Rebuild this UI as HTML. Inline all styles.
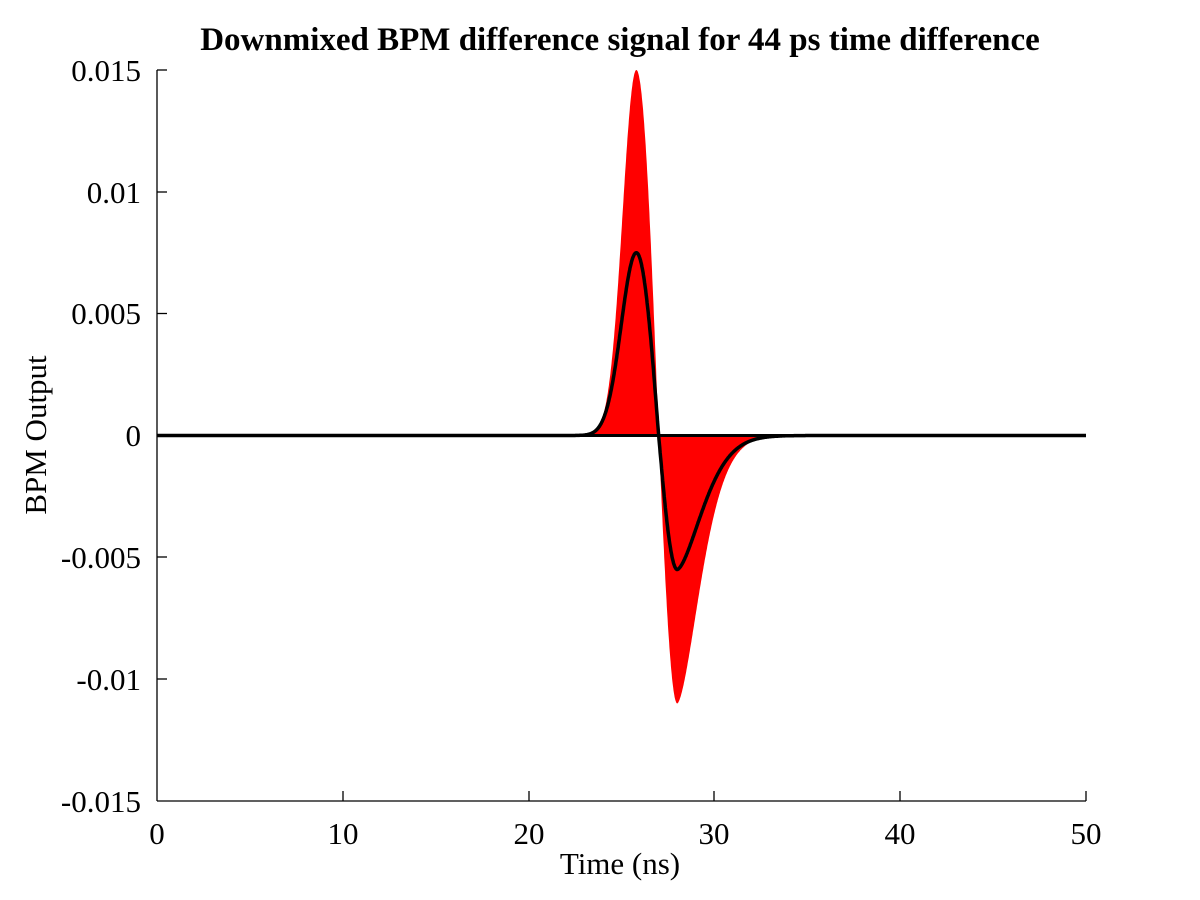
<!DOCTYPE html>
<html><head><style>body{margin:0;background:#fff}svg{display:block}text{font-family:"Liberation Serif",serif;fill:#000}</style></head>
<body>
<svg id="s" width="1200" height="900" xmlns="http://www.w3.org/2000/svg">
<path id="red" fill="#ff0000" stroke="none"/>
<line x1="157" y1="435.5" x2="1086" y2="435.5" stroke="#000" stroke-width="3"/>
<path id="blk" fill="none" stroke="#000" stroke-width="3.5" stroke-linejoin="round"/>
<g stroke="#000" stroke-width="1.3">
<line x1="157" y1="70" x2="157" y2="801"/><line x1="157" y1="801" x2="1086" y2="801"/>
<line x1="157" y1="70" x2="167" y2="70"/><line x1="157" y1="192" x2="167" y2="192"/><line x1="157" y1="313.5" x2="167" y2="313.5"/><line x1="157" y1="557" x2="167" y2="557"/><line x1="157" y1="679" x2="167" y2="679"/>
<line x1="343" y1="801" x2="343" y2="791"/><line x1="529" y1="801" x2="529" y2="791"/><line x1="714" y1="801" x2="714" y2="791"/><line x1="900" y1="801" x2="900" y2="791"/><line x1="1086" y1="801" x2="1086" y2="791"/>
</g>
<g font-size="31" text-anchor="end">
<text x="141" y="81">0.015</text><text x="141" y="203">0.01</text><text x="141" y="324">0.005</text><text x="141" y="446">0</text><text x="141" y="568">-0.005</text><text x="141" y="690">-0.01</text><text x="141" y="812">-0.015</text>
</g>
<g font-size="31" text-anchor="middle">
<text x="157" y="844">0</text><text x="343" y="844">10</text><text x="529" y="844">20</text><text x="714" y="844">30</text><text x="900" y="844">40</text><text x="1086" y="844">50</text>
<text x="620" y="874">Time (ns)</text>
<text x="620" y="50" font-weight="bold" font-size="33">Downmixed BPM difference signal for 44 ps time difference</text>
<text transform="translate(46,435) rotate(-90)">BPM Output</text>
</g>
</svg>
<script>
function X(t){return 157+t*18.58}function Y(v){return 435.5-v*24367}
function f(t,A,B,sl,sr){
 if(t<25.8) return A*Math.exp(-Math.pow((t-25.8)/sl,2));
 if(t<27) {var u=(t-25.8)/1.2;return A*Math.cos(u*Math.PI/2);}
 if(t<28){var u=(t-27);return -B*Math.sin(u*Math.PI/2);}
 return -B*Math.exp(-Math.pow((t-28)/sr,1.6));
}
var pb="",pr="M"+X(22)+","+Y(0);
for(var t=0;t<=50.001;t+=0.02){
 var v=f(t,0.0075,0.0055,1.15,1.9);
 pb+=(t==0?"M":"L")+X(t).toFixed(1)+","+Y(v).toFixed(1);
}
for(var t=22;t<=36;t+=0.02){
 var v=f(t,0.015,0.011,1.05,1.75);
 pr+="L"+X(t).toFixed(1)+","+Y(v).toFixed(1);
}
pr+="L"+X(36)+","+Y(0)+"Z";
document.getElementById("blk").setAttribute("d",pb);
document.getElementById("red").setAttribute("d",pr);
</script>
</body></html>
